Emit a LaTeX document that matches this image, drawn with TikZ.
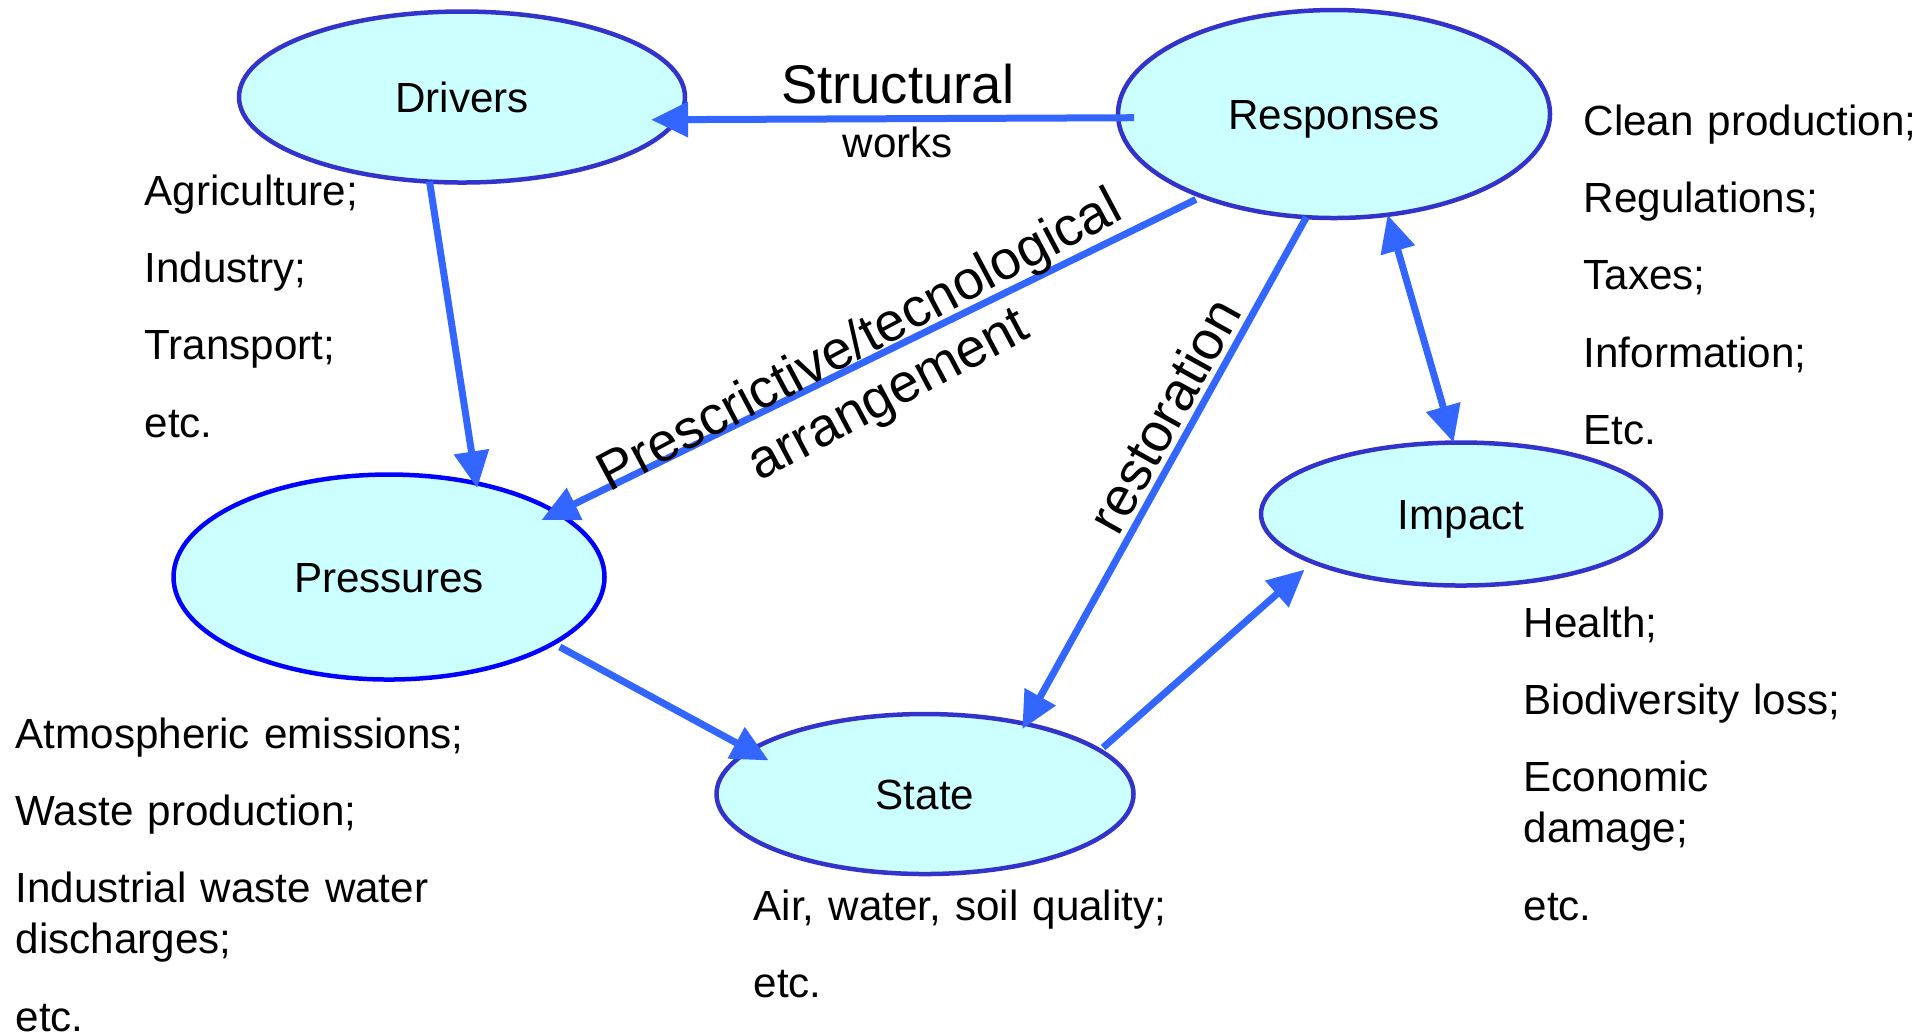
\documentclass[tikz,border=0pt]{standalone}
\usepackage{fontspec}
\setmainfont{Liberation Sans}
\usepackage{tikz}
\usetikzlibrary{shapes.geometric, arrows.meta}

\definecolor{rimblue}{HTML}{3333CC}
\definecolor{rimpure}{HTML}{0000FF}
\definecolor{cellfill}{HTML}{CCFFFF}
\definecolor{linkblue}{HTML}{3366FF}

\begin{document}
\begin{tikzpicture}[>={Triangle[length=0.37cm, width=0.34cm]},
                % Define styles
                stage/.style={ellipse, draw=rimblue, line width=0.045cm, fill=cellfill, inner sep=0pt, outer sep=0pt, text height=0.3cm, text depth=0cm, font=\fontsize{12}{14.5}\selectfont},
                items/.style={anchor=base west, inner sep=0pt, text width=5cm, align=left, font=\fontsize{12}{14.5}\selectfont},
                line/.style={draw=linkblue, line width=0.07cm, ->},
                twoway/.style={line, <->},
                tag/.style={inner sep=0pt, font=\fontsize{15.5}{17.4}\selectfont},
                small/.style={inner sep=0pt, font=\fontsize{12}{14.5}\selectfont}
            ]
            \useasboundingbox (0,0) rectangle (19.15,-10.32);

            % --- Nodes ---
            \node [stage, minimum width=4.46cm, minimum height=1.71cm] (drivers) at (4.62,-0.97) {Drivers};
            \node [stage, minimum width=4.32cm, minimum height=2.08cm] (responses) at (13.34,-1.14) {Responses};
            \node [stage, draw=rimpure, minimum width=4.31cm, minimum height=2.05cm] (pressures) at (3.89,-5.77) {Pressures};
            \node [stage, minimum width=4.00cm, minimum height=1.43cm] (impact) at (14.61,-5.14) {Impact};
            \node [stage, minimum width=4.17cm, minimum height=1.60cm] (state) at (9.25,-7.94) {State};

            % --- Edges ---
            \path [line, shorten <=-0.16cm, shorten >=-0.26cm] (responses.181.6) -- (drivers.-6.05)
                node [tag, above=0.11cm, midway] (structural) {Structural}
                node [small, below=0.05cm, midway] (works) {works};
            \path [line, shorten >=-0.05cm] (drivers.249.8) -- (pressures.47.1);
            \path [line, shorten <=0.07cm, shorten >=-0.17cm] (responses.212.7) -- (pressures.21.1)
                node [tag, align=center, rotate=28, pos=0.521, xshift=0.04cm, yshift=-0.12cm] (prescriptive) {Prescrictive/tecnological\\arrangement};
            \path [line, shorten >=-0.06cm] (responses.255.6) -- (state.35.8)
                node [tag, sloped, above=0.05cm, pos=0.418] (restoration) {restoration};
            \path [twoway] (responses.298.5) -- (impact.96);
            \path [line, shorten <=0.075cm, shorten >=-0.21cm] (pressures.-22.7) -- (state.166.8);
            \path [line, shorten <=0.044cm, shorten >=0.113cm] (state.14.9) -- (impact.198.9);

            % --- Lists ---
            \node [items] (drivers-list) at (1.44,-2.05) {Agriculture;\\[0.265cm] Industry;\\[0.265cm] Transport;\\[0.265cm] etc.};
            \node [items] (responses-list) at (15.83,-1.35) {Clean production;\\[0.265cm] Regulations;\\[0.265cm] Taxes;\\[0.265cm] Information;\\[0.265cm] Etc.};
            \node [items] (pressures-list) at (0.15,-7.48) {Atmospheric emissions;\\[0.265cm] Waste production;\\[0.265cm] Industrial waste water\\discharges;\\[0.265cm] etc.};
            \node [items] (impact-list) at (15.23,-6.37) {Health;\\[0.265cm] Biodiversity loss;\\[0.265cm] Economic\\damage;\\[0.265cm] etc.};
            \node [items] (state-list) at (7.53,-9.20) {Air, water, soil quality;\\[0.265cm] etc.};

        \end{tikzpicture}
\end{document}
